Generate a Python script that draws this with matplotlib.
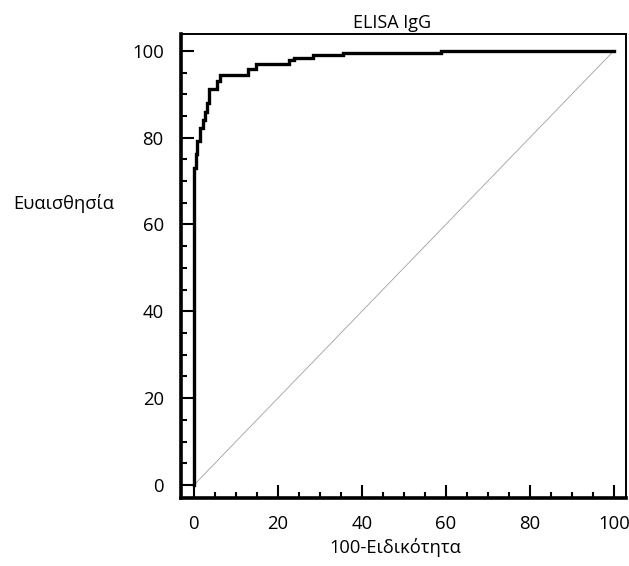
import matplotlib
matplotlib.use("Agg")
import matplotlib.pyplot as plt
from matplotlib.ticker import MultipleLocator

plt.rcParams['font.family'] = ['Open Sans', 'DejaVu Sans']

# ROC curve corner points (100-Specificity, Sensitivity), drawn as steps
fpr = [0.0, 0.0, 0.5, 0.8, 1.4, 2.2, 2.6, 3.0, 3.6, 5.6, 6.2, 12.8, 14.8, 22.6, 23.8, 28.4, 35.5, 58.9, 100.0]
tpr = [0.0, 72.9, 76.3, 79.3, 82.3, 84.0, 86.0, 88.0, 91.3, 93.0, 94.5, 95.8, 97.0, 97.9, 98.4, 99.1, 99.6, 100.0, 100.0]
diag = [0, 100]
xticks = [0, 20, 40, 60, 80, 100]
yticks = [0, 20, 40, 60, 80, 100]

W, H = 629, 566
fig = plt.figure(figsize=(W / 100, H / 100), dpi=100)
L, R, T, B = 180.5, 626, 34.3, 498
ax = fig.add_axes([L / W, 1 - B / H, (R - L) / W, (B - T) / H])

ax.plot(diag, diag, color='#a0a0a0', lw=0.6, zorder=1)
ax.step(fpr, tpr, where='post', color='black', lw=2.4, zorder=3,
        solid_joinstyle='miter')

ax.set_xlim(-3.2, 102.9)
ax.set_ylim(-3.0, 103.8)
ax.set_xticks(xticks)
ax.set_yticks(yticks)
ax.xaxis.set_minor_locator(MultipleLocator(5))
ax.yaxis.set_minor_locator(MultipleLocator(5))
ax.tick_params(which='major', direction='in', length=9.2, width=1.5, labelsize=13.3, color='black')
ax.tick_params(which='minor', direction='in', length=4.5, width=1.5)
ax.tick_params(axis='y', which='major', pad=12)
ax.tick_params(axis='x', which='major', pad=12.5)

ax.spines['left'].set_linewidth(2.6)
ax.spines['bottom'].set_linewidth(2.6)
ax.spines['top'].set_linewidth(1.4)
ax.spines['right'].set_linewidth(1.4)

fig.text(392 / W, 1 - 28 / H, 'ELISA IgG', ha='center', va='baseline', fontsize=13)
fig.text(13 / W, 1 - 209 / H, 'Ευαισθησία', ha='left', va='baseline', fontsize=13.2)
fig.text(395 / W, 1 - 553 / H, '100-Ειδικότητα', ha='center', va='baseline', fontsize=13.2)

fig.savefig('out.png', dpi=100)
